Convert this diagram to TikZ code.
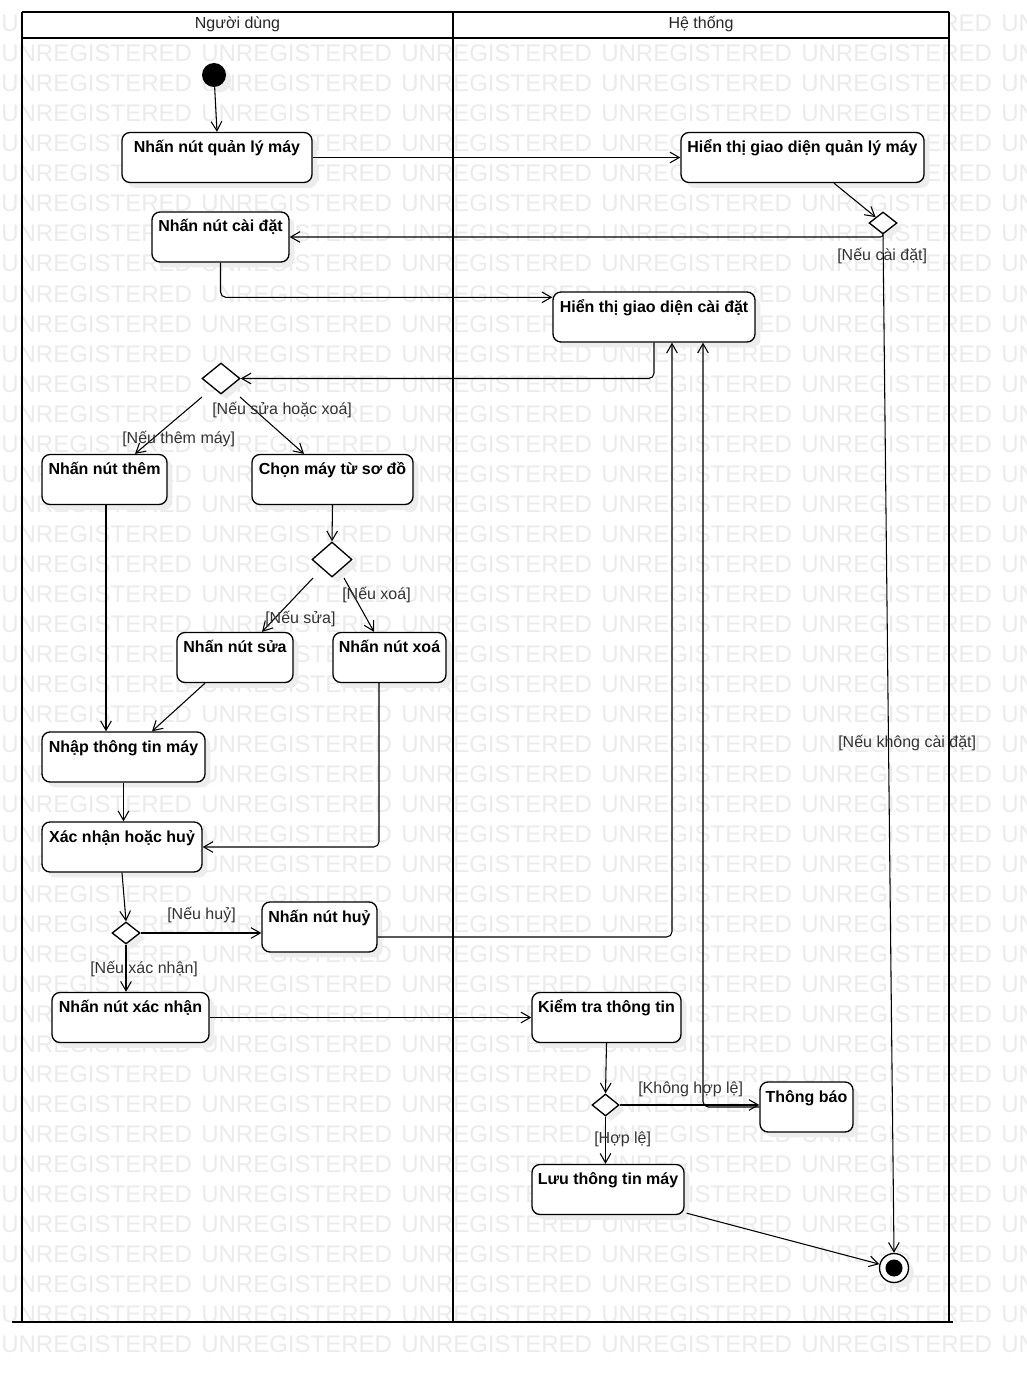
\documentclass[tikz,border=0pt]{standalone}
\usepackage{fontspec}
\setmainfont{Liberation Sans}
\usetikzlibrary{arrows.meta,shapes.geometric,shadows,calc}
\begin{document}
\begin{tikzpicture}[x=0.75pt,y=-0.75pt,
  shd/.style={general shadow={shadow xshift=4pt, shadow yshift=-4pt, fill=black!7}},
  act/.style={draw, line width=1pt, rounded corners=6pt, fill=white, inner xsep=2pt, inner ysep=0pt,
    text height=15pt, text depth=22.5pt, font=\bfseries\fontsize{12}{14}\selectfont, shd},
  bw/.style={minimum width=#1*0.75pt},
  dec/.style={diamond, draw, fill=white, line width=1pt, inner sep=0pt, shd},
  dw/.style 2 args={minimum width=#1*0.75pt, minimum height=#2*0.75pt},
  arr/.style={draw, line width=0.8pt, -{Straight Barb[length=7pt,width=8pt,line width=0.8pt]}},
  lbl/.style={anchor=base west, inner sep=0pt, font=\fontsize{12}{14}\selectfont, text=black!80},
  hdr/.style={anchor=base, inner sep=0pt, font=\fontsize{12}{14}\selectfont, text=black!85},
  wm/.style={anchor=base west, inner sep=0pt, font=\fontsize{18}{20}\selectfont, text=black!8},
  lane/.style={line width=2.2pt},
]
\useasboundingbox (0,0) rectangle (1027,1373);
\fill[white] (0,0) rectangle (1027,1373);
% watermark
\foreach \k in {0,...,44}{
  \foreach \j in {0,...,5}{
    \node[wm] at (1+200*\j, 32+30*\k) {UNREGISTERED};
  }
}
% swimlanes
\fill[white] (22,12) rectangle (949,38);
\draw[line width=1.5pt] (22,38) -- (949,38);
\draw[line width=1.5pt] (12,1322) -- (953,1322);
\draw[lane] (22,12) -- (949,12);
\draw[lane] (22,12) -- (22,1322);
\draw[lane] (453,12) -- (453,1322);
\draw[lane] (949,12) -- (949,1322);
\node[hdr] (h1) at (237.5,29) {Người dùng};
\node[hdr] (h2) at (701,29) {Hệ thống};

% nodes
\node[circle, fill=black, minimum size=18pt, inner sep=0pt, shd] (st) at (214,75) {};
\node[act,bw=190] (n1) at (217,157.5) {Nhấn nút quản lý máy};
\node[act,bw=137] (n2) at (220.5,237) {Nhấn nút cài đặt};
\node[act,bw=243] (n3) at (802.5,157.5) {Hiển thị giao diện quản lý máy};
\node[act,bw=202] (n5) at (654,317) {Hiển thị giao diện cài đặt};
\node[act,bw=125] (n7) at (104.5,479.5) {Nhấn nút thêm};
\node[act,bw=161] (n8) at (332.5,479.5) {Chọn máy từ sơ đồ};
\node[act,bw=116] (n9) at (235,657.5) {Nhấn nút sửa};
\node[act,bw=113] (n10) at (389.5,657.5) {Nhấn nút xoá};
\node[act,bw=163] (n11) at (123.5,757) {Nhập thông tin máy};
\node[act,bw=160] (n12) at (122,847) {Xác nhận hoặc huỷ};
\node[act,bw=115] (n13) at (319.5,927) {Nhấn nút huỷ};
\node[act,bw=157] (n14) at (130.5,1017.5) {Nhấn nút xác nhận};
\node[act,bw=149] (n15) at (606.5,1017.5) {Kiểm tra thông tin};
\node[act,bw=93] (n16) at (806.5,1107) {Thông báo};
\node[act,bw=152] (n17) at (608,1189.5) {Lưu thông tin máy};
\node[dec,dw={28}{22}] (D1) at (883,223) {};
\node[dec,dw={38}{31}] (D2) at (221,378.5) {};
\node[dec,dw={40}{35}] (D3) at (332,559.5) {};
\node[dec,dw={28}{22}] (D4) at (126,933) {};
\node[dec,dw={27}{22}] (D5) at (605.5,1105) {};
\node[circle, draw, fill=white, line width=1pt, minimum size=21.75pt, inner sep=0pt, shd] (fin) at (894,1268) {};
\fill (fin.center) circle[radius=6.4pt];

% connectors
\draw[arr] (st) -- (n1.north);
\draw[arr] (n1.east) -- (n3.west);
\draw[arr] ([shift={(31.5,0)}]n3.south) -- (D1.north west);
\draw[arr, rounded corners=2pt] (D1.south) |- (n2.east);
\draw[arr] (D1.south) -- (fin.north);
\draw[arr, rounded corners=4pt] (n2.south) |- ([shift={(0,6)}]n5.north west);
\draw[arr, rounded corners=4pt] (n5.south) |- (D2.east);
\draw[arr] ([shift={(-19,18.5)}]D2.center) -- ([shift={(30.5,0)}]n7.north);
\draw[arr] ([shift={(19,18.5)}]D2.center) -- ([shift={(-28.5,0)}]n8.north);
\draw[arr] (n8.south) -- (D3.north);
\draw[arr] ([shift={(-19,18.5)}]D3.center) -- ([shift={(27,0)}]n9.north);
\draw[arr] ([shift={(12,18.5)}]D3.center) -- ([shift={(-15.5,0)}]n10.north);
\draw[arr] ([shift={(1.5,0)}]n7.south) -- ([shift={(1.5,0)}]n7.south |- n11.north);
\draw[arr] ([shift={(-30,0)}]n9.south) -- ([shift={(28.5,0)}]n11.north);
\draw[arr, rounded corners=4pt] ([shift={(-10.5,0)}]n10.south) |- (n12.east);
\draw[arr] (n11.south) -- (n11.south |- n12.north);
\draw[arr] (n12.south) -- (D4.north);
\draw[arr] (D4.east) -- (D4.east -| n13.west);
\draw[arr] (D4.south) -- (D4.south |- n14.north);
\draw[arr, rounded corners=4pt] ([shift={(0,10)}]n13.east) -| ([shift={(18,0)}]n5.south);
\draw[arr] (n14.east) -- (n14.east -| n15.west);
\draw[arr] (n15.south) -- (D5.north);
\draw[arr] (D5.east) -- (D5.east -| n16.west);
\draw[arr, rounded corners=4pt] (n16.west) -| ([shift={(49,0)}]n5.south);
\draw[arr] (D5.south) -- (D5.south |- n17.north);
\draw[arr] ([shift={(2,-2)}]n17.south east) -- (fin);

% guard labels
\node[lbl] (g1) at (837,261) {[Nếu cài đặt]};
\node[lbl] (g2) at (838,747) {[Nếu không cài đặt]};
\node[lbl] (g3) at (212,414) {[Nếu sửa hoặc xoá]};
\node[lbl] (g4) at (122,443) {[Nếu thêm máy]};
\node[lbl] (g5) at (342,599) {[Nếu xoá]};
\node[lbl] (g6) at (265,623) {[Nếu sửa]};
\node[lbl] (g7) at (167,919) {[Nếu huỷ]};
\node[lbl] (g8) at (90,973) {[Nếu xác nhận]};
\node[lbl] (g9) at (638,1093) {[Không hợp lệ]};
\node[lbl] (g10) at (594,1143) {[Hợp lệ]};
\end{tikzpicture}
\end{document}
